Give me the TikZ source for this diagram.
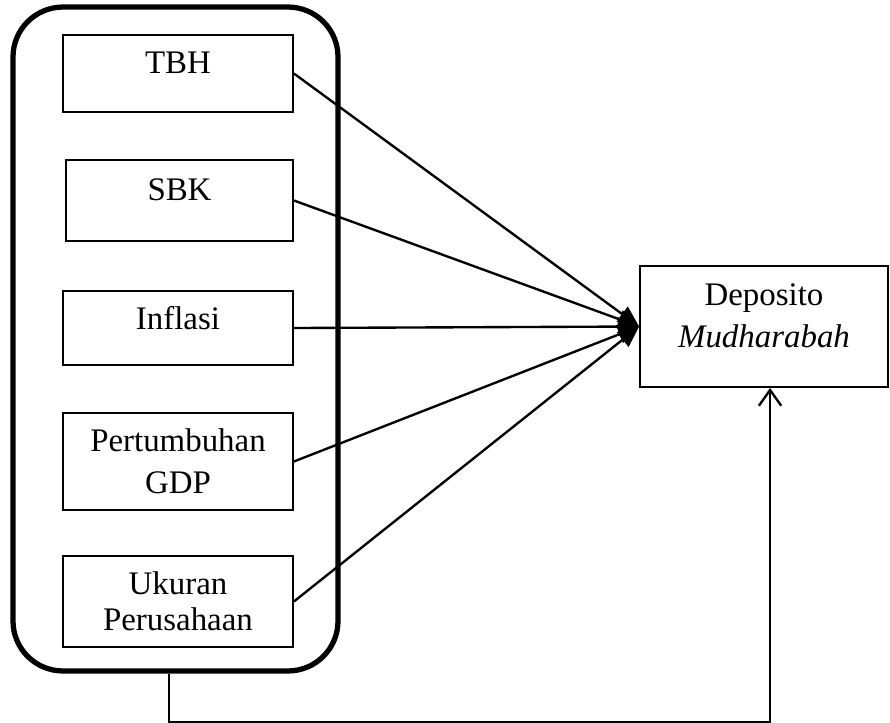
\documentclass[tikz,border=0pt]{standalone}
\usepackage{fontspec}
\setmainfont{Liberation Serif}
\usetikzlibrary{positioning, arrows.meta}

\begin{document}
\begin{tikzpicture}[x=0.38pt, y=-0.38pt,
    every node/.style={font=\fontsize{12.5}{16}\selectfont},
    box/.style={rectangle, draw, line width=0.7pt, minimum width=87.4pt, align=center, inner sep=0pt},
    upper/.style={text depth=8pt},
    group/.style={rectangle, draw, line width=2pt, rounded corners=19pt, minimum width=123.5pt, minimum height=252.3pt},
    arrow/.style={-{Triangle[length=8pt, width=7pt]}, line width=0.9pt},
    back/.style={-{Straight Barb[length=6pt, width=8.5pt]}, line width=0.9pt}]

  \useasboundingbox (0,0) rectangle (890,722);

  \node[group] (grp) at (175.5,339) {};
  \node[box, upper, minimum height=29.3pt] (tbh) at (178,73.5) {TBH};
  \node[box, upper, minimum width=86.3pt, minimum height=30.8pt] (sbk) at (179.5,200.5) {SBK};
  \node[box, upper, minimum height=28.1pt] (inf) at (178,328) {Inflasi};
  \node[box, minimum height=36.9pt] (gdp) at (178,461.5) {Pertumbuhan\\GDP};
  \node[box, minimum height=34.6pt, font=\fontsize{12.5}{13.5}\selectfont] (uku) at (178,601.5) {Ukuran\\Perusahaan};
  \node[box, upper, minimum width=94.2pt, minimum height=46pt] (dep) at (764,326.5) {Deposito\\\textit{Mudharabah}};

  \foreach \v in {tbh, sbk, inf, gdp, uku}
    \draw[arrow] (\v.east) -- (dep.west);
  \draw[back] ([xshift=-2.5pt]grp.south) -- ++(0,49) -| ([xshift=2.3pt]dep.south);
\end{tikzpicture}
\end{document}
